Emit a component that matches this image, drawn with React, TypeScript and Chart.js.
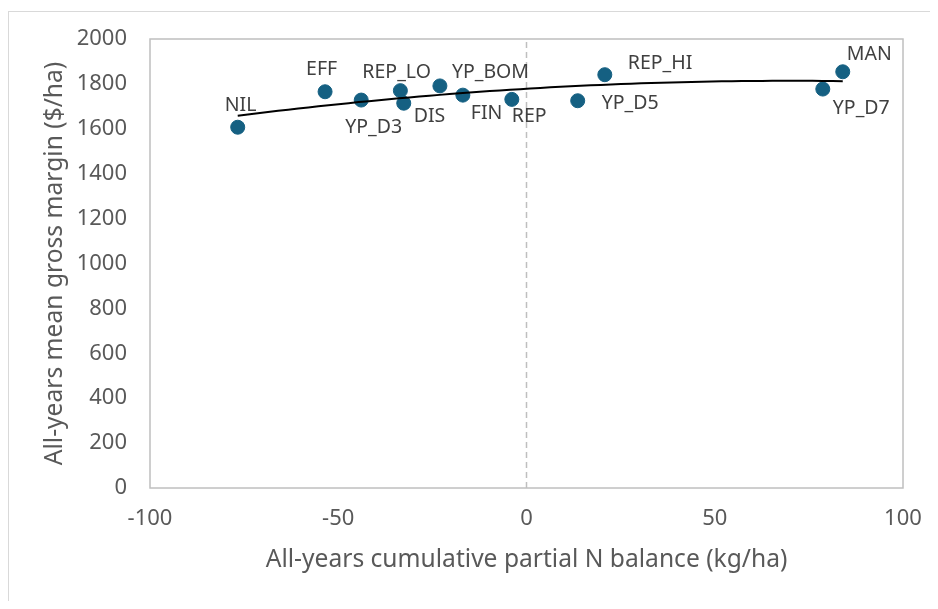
import React, { useEffect, useRef } from "react";
import { Chart, registerables } from "chart.js";

Chart.register(...registerables);

// ---- Data ----
const treatments = ["NIL", "EFF", "YP_D3", "REP_LO", "DIS", "YP_BOM", "FIN", "REP", "YP_D5", "REP_HI", "YP_D7", "MAN"];
const nBalance = [-76.7, -53.5, -43.9, -33.5, -32.6, -23.0, -16.9, -3.9, 13.6, 20.8, 78.7, 84.0];
const grossMargin = [1607, 1765, 1728, 1770, 1714, 1791, 1750, 1731, 1725, 1841, 1777, 1854];
const xTicks = [-100, -50, 0, 50, 100];
const yTicks = [0, 200, 400, 600, 800, 1000, 1200, 1400, 1600, 1800, 2000];

// label placement (px offsets from point: left edge dx, vertical centre dy)
const labelDx = [-13, -19, -16, -38, 10, 12, 8, 0, 24, 23, 10, 4];
const labelDy = [-22, -22, 27, -18, 13, -13, 18, 17, 3, -11, 19, -17];

// Order-2 polynomial least-squares trendline (as a spreadsheet trendline)
function quadFit(xs: number[], ys: number[]) {
  const n = xs.length;
  let s1 = 0, s2 = 0, s3 = 0, s4 = 0, t0 = 0, t1 = 0, t2 = 0;
  for (let i = 0; i < n; i++) {
    const x = xs[i], y = ys[i];
    s1 += x; s2 += x * x; s3 += x * x * x; s4 += x * x * x * x;
    t0 += y; t1 += x * y; t2 += x * x * y;
  }
  const M = [
    [n, s1, s2, t0],
    [s1, s2, s3, t1],
    [s2, s3, s4, t2],
  ];
  for (let c = 0; c < 3; c++) {
    let p = c;
    for (let r = c + 1; r < 3; r++) if (Math.abs(M[r][c]) > Math.abs(M[p][c])) p = r;
    [M[c], M[p]] = [M[p], M[c]];
    for (let r = 0; r < 3; r++) {
      if (r === c) continue;
      const f = M[r][c] / M[c][c];
      for (let k = c; k < 4; k++) M[r][k] -= f * M[c][k];
    }
  }
  return [M[0][3] / M[0][0], M[1][3] / M[1][1], M[2][3] / M[2][2]];
}

const FONT = "'Noto Sans', sans-serif";

export default function App() {
  const ref = useRef<HTMLCanvasElement | null>(null);

  useEffect(() => {
    if (!ref.current) return;
    const [a, b, c] = quadFit(nBalance, grossMargin);
    const xmin = Math.min(...nBalance);
    const xmax = Math.max(...nBalance);
    const trend: { x: number; y: number }[] = [];
    const steps = 60;
    for (let i = 0; i <= steps; i++) {
      const x = xmin + ((xmax - xmin) * i) / steps;
      trend.push({ x, y: a + b * x + c * x * x });
    }
    const points = nBalance.map((x, i) => ({ x, y: grossMargin[i] }));

    const framePlugin = {
      id: "frame",
      beforeDraw(chart: any) {
        const ctx = chart.ctx;
        ctx.save();
        ctx.strokeStyle = "#d9d9d9";
        ctx.lineWidth = 1;
        ctx.strokeRect(0.5, 3.5, 2000, 2000);
        ctx.restore();
      },
      beforeDatasetsDraw(chart: any) {
        const { ctx, chartArea } = chart;
        ctx.save();
        ctx.strokeStyle = "#bfbfbf";
        ctx.lineWidth = 1.5;
        ctx.strokeRect(chartArea.left, chartArea.top, chartArea.right - chartArea.left, chartArea.bottom - chartArea.top);
        ctx.restore();
      },
    };

    const labelPlugin = {
      id: "pointLabels",
      afterDatasetsDraw(chart: any) {
        const meta = chart.getDatasetMeta(1);
        const ctx = chart.ctx;
        ctx.save();
        ctx.font = `19.5px ${FONT}`;
        ctx.fillStyle = "#404040";
        ctx.textAlign = "left";
        ctx.textBaseline = "middle";
        meta.data.forEach((el: any, i: number) => {
          ctx.fillText(treatments[i], el.x + labelDx[i], el.y + labelDy[i]);
        });
        ctx.restore();
      },
    };

    const noPad = (s: any) => {
      s.paddingLeft = 0; s.paddingRight = 0; s.paddingTop = 0; s.paddingBottom = 0;
    };

    const chart = new Chart(ref.current, {
      type: "scatter",
      data: {
        datasets: [
          {
            type: "line",
            label: "Trend",
            data: trend,
            borderColor: "#000000",
            borderWidth: 2,
            pointRadius: 0,
            fill: false,
            tension: 0,
          } as any,
          {
            label: "Treatments",
            data: points,
            backgroundColor: "#156082",
            borderColor: "#156082",
            pointRadius: 7,
            pointHoverRadius: 7,
            showLine: false,
          },
          {
            type: "line",
            label: "Zero",
            data: [{ x: 0, y: 0 }, { x: 0, y: 2000 }],
            borderColor: "#bfbfbf",
            borderWidth: 1.5,
            borderDash: [6, 4],
            pointRadius: 0,
            fill: false,
          } as any,
        ],
      },
      options: {
        animation: false,
        responsive: false,
        maintainAspectRatio: false,
        layout: { padding: { left: 0, right: 27, top: 31, bottom: 0 } },
        plugins: { legend: { display: false }, tooltip: { enabled: false } },
        scales: {
          x: {
            type: "linear",
            min: -100,
            max: 100,
            afterBuildTicks: (s: any) => { s.ticks = xTicks.map((v) => ({ value: v })); },
            afterFit: (s: any) => { s.height = 113; noPad(s); },
            grid: { display: false, drawTicks: false },
            border: { display: false },
            ticks: {
              color: "#595959",
              font: { family: FONT, size: 22 },
              padding: 18,
              maxRotation: 0,
              callback: (v: any) => String(v),
            },
            title: {
              display: true,
              text: "All-years cumulative partial N balance (kg/ha)",
              color: "#595959",
              font: { family: FONT, size: 24.6 },
              padding: { top: 0, bottom: 26.2 },
            },
          },
          y: {
            type: "linear",
            min: 0,
            max: 2000,
            afterBuildTicks: (s: any) => { s.ticks = yTicks.map((v) => ({ value: v })); },
            afterFit: (s: any) => { s.width = 142; noPad(s); },
            grid: { display: false, drawTicks: false },
            border: { display: false },
            ticks: {
              color: "#595959",
              font: { family: FONT, size: 22 },
              padding: 23,
              callback: (v: any) => String(v),
            },
            title: {
              display: true,
              text: "All-years mean gross margin ($/ha)",
              color: "#595959",
              font: { family: FONT, size: 24.6 },
              padding: { top: 32.2, bottom: 0 },
            },
          },
        },
      } as any,
      plugins: [framePlugin, labelPlugin],
    });
    return () => chart.destroy();
  }, []);

  return (
    <div style={{ width: 922, height: 593 }}>
      <canvas ref={ref} width={922} height={593} style={{ display: "block", width: 922, height: 593 }} />
    </div>
  );
}
